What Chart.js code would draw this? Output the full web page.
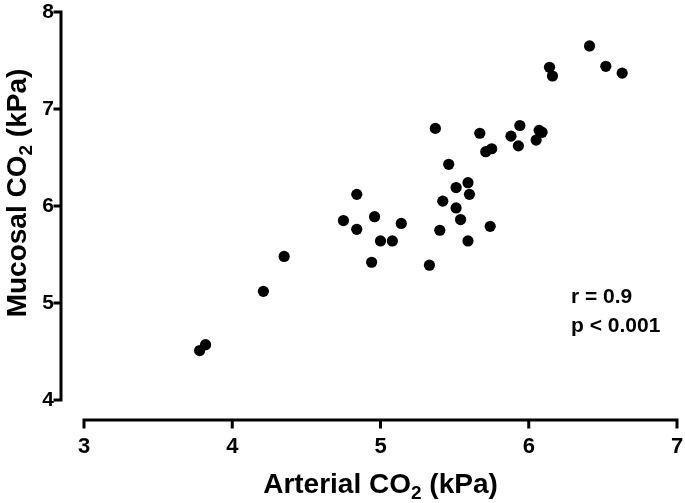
<!DOCTYPE html>
<html>
<head>
<meta charset="utf-8">
<script src="https://cdn.jsdelivr.net/npm/chart.js@4.4.1/dist/chart.umd.min.js"></script>
<style>
html, body { margin: 0; padding: 0; background: #fff; }
#wrap { width: 685px; height: 503px; }
</style>
</head>
<body>
<div id="wrap"><canvas id="chart"></canvas></div>
<script>
// values
const arterial = [3.78, 3.82, 4.21, 4.35, 4.75, 4.84, 4.84, 4.96, 4.94, 5.00, 5.08, 5.14, 5.33, 5.37, 5.40, 5.42, 5.46, 5.51, 5.51, 5.54, 5.59, 5.60, 5.59, 5.67, 5.71, 5.75, 5.74, 5.88, 5.93, 5.94, 6.05, 6.07, 6.09, 6.14, 6.16, 6.41, 6.52, 6.63];
const mucosal  = [4.51, 4.57, 5.12, 5.48, 5.85, 6.12, 5.76, 5.89, 5.42, 5.64, 5.64, 5.82, 5.39, 6.80, 5.75, 6.05, 6.43, 6.19, 5.98, 5.86, 6.24, 6.12, 5.64, 6.75, 6.56, 6.59, 5.79, 6.72, 6.62, 6.83, 6.68, 6.78, 6.76, 7.43, 7.34, 7.65, 7.44, 7.37];
const xTicks = [3, 4, 5, 6, 7];
const yTicks = [4, 5, 6, 7, 8];
const statLines = ['r = 0.9', 'p < 0.001'];

const FONT = '"Liberation Sans", Arial, sans-serif';

// draw a run of text pieces (for the subscript 2), centred on cx
function drawParts(ctx, parts, cx, baseY) {
    let total = 0;
    parts.forEach(p => { ctx.font = p.font; total += ctx.measureText(p.text).width; });
    let x = cx - total / 2;
    parts.forEach(p => {
        ctx.font = p.font;
        ctx.fillText(p.text, x, baseY + (p.dy || 0));
        x += ctx.measureText(p.text).width;
    });
}

function titleParts(word) {
    return [
        { text: word + ' CO', font: 'bold 28px ' + FONT },
        { text: '2', font: 'bold 19px ' + FONT, dy: 6 },
        { text: ' (kPa)', font: 'bold 28px ' + FONT }
    ];
}

// prism style detached axes + titles + stats text
const prismAxes = {
    id: 'prismAxes',
    afterDraw(chart) {
        const ctx = chart.ctx;
        const x = chart.scales.x, y = chart.scales.y;
        const yLineX = 61, xLineY = 420;
        ctx.save();
        ctx.strokeStyle = '#000';
        ctx.lineWidth = 3;
        ctx.lineCap = 'square';
        ctx.beginPath();
        ctx.moveTo(yLineX, y.getPixelForValue(yTicks[yTicks.length - 1]));
        ctx.lineTo(yLineX, y.getPixelForValue(yTicks[0]));
        yTicks.forEach(v => {
            const py = y.getPixelForValue(v);
            ctx.moveTo(yLineX, py);
            ctx.lineTo(yLineX - 6, py);
        });
        ctx.moveTo(x.getPixelForValue(xTicks[0]), xLineY);
        ctx.lineTo(x.getPixelForValue(xTicks[xTicks.length - 1]), xLineY);
        xTicks.forEach(v => {
            const px = x.getPixelForValue(v);
            ctx.moveTo(px, xLineY);
            ctx.lineTo(px, xLineY + 7);
        });
        ctx.stroke();

        ctx.fillStyle = '#000';
        ctx.textBaseline = 'alphabetic';
        ctx.textAlign = 'left';
        drawParts(ctx, titleParts('Arterial'), (x.left + x.right) / 2, 493);

        ctx.save();
        ctx.translate(26, 193);
        ctx.rotate(-Math.PI / 2);
        drawParts(ctx, titleParts('Mucosal'), 0, 0);
        ctx.restore();

        ctx.font = 'bold 21px ' + FONT;
        statLines.forEach((t, i) => ctx.fillText(t, 571, 303 + i * 28.5));
        ctx.restore();
    }
};

new Chart(document.getElementById('chart'), {
    type: 'scatter',
    data: {
        datasets: [{
            data: arterial.map((v, i) => ({ x: v, y: mucosal[i] })),
            backgroundColor: '#000',
            borderWidth: 0,
            pointRadius: 5.6,
            pointHoverRadius: 5.6
        }]
    },
    options: {
        responsive: true,
        maintainAspectRatio: false,
        animation: false,
        layout: { padding: { left: 0, right: 8, top: 12, bottom: 0 } },
        plugins: { legend: { display: false }, tooltip: { enabled: false } },
        scales: {
            x: {
                type: 'linear', min: 3, max: 7,
                afterBuildTicks: s => { s.ticks = xTicks.map(v => ({ value: v })); },
                afterFit: s => { s.height = 103; s.paddingLeft = 0; s.paddingRight = 0; },
                grid: { drawOnChartArea: false, drawTicks: false, color: 'transparent' },
                border: { display: false },
                ticks: { color: '#000', padding: 34, font: { family: FONT, size: 22, weight: 'bold' } }
            },
            y: {
                type: 'linear', min: 4, max: 8,
                afterBuildTicks: s => { s.ticks = yTicks.map(v => ({ value: v })); },
                afterFit: s => { s.width = 84; s.paddingTop = 0; s.paddingBottom = 0; },
                grid: { drawOnChartArea: false, drawTicks: false, color: 'transparent' },
                border: { display: false },
                ticks: { color: '#000', padding: 30, font: { family: FONT, size: 21, weight: 'bold' } }
            }
        }
    },
    plugins: [prismAxes]
});
</script>
</body>
</html>
